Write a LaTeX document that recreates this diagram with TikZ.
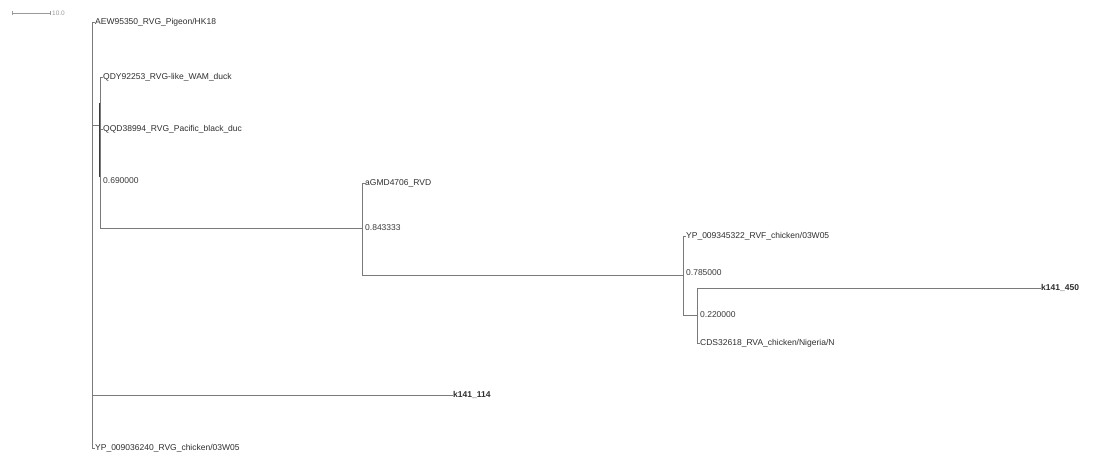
\documentclass[tikz,border=0pt]{standalone}
\usepackage{fontspec}
\setmainfont{Liberation Sans}
\usetikzlibrary{positioning}
\definecolor{Branch}{HTML}{7A7A7A}
\definecolor{Ink}{HTML}{2E2E2E}
\definecolor{Dark}{HTML}{3A3A3A}
\definecolor{Scale}{HTML}{9A9A9A}

\begin{document}
\begin{tikzpicture}[x=1pt,y=-1pt,
    branch/.style={draw=Branch,line width=0.8pt},
    leaf/.style={anchor=west,inner sep=0.5pt,text=Ink,font=\fontsize{8.5}{9}\selectfont},
    hit/.style={leaf,font=\fontsize{8.5}{9}\selectfont\bfseries},
    support/.style={leaf,text=Dark}
  ]
    \useasboundingbox (0,0) rectangle (1095,457);
    % scale bar
    \coordinate (sbL) at (12,13);
    \coordinate (sbR) at (50,13);
    \draw[draw=Scale,line width=0.8pt] (sbL) -- (sbR);
    \draw[draw=Scale,line width=0.8pt] ([yshift=-2]sbL) -- ([yshift=2]sbL);
    \draw[draw=Scale,line width=0.8pt] ([yshift=-2]sbR) -- ([yshift=2]sbR);
    \node[leaf,text=Scale,font=\fontsize{6.5}{7}\selectfont] (sbT) at (51.5,13.5) {10.0};

    % internal nodes
    \coordinate (root) at (92,235);
    \coordinate (nA) at (100,125);
    \coordinate (nB) at (362,228);
    \coordinate (nC) at (683,275);
    \coordinate (nD) at (697,315);

    % leaves
    \node[leaf] (lAEW) at (94.5,22) {AEW95350\_RVG\_Pigeon/HK18};
    \node[leaf] (lQDY) at (102.5,77) {QDY92253\_RVG-like\_WAM\_duck};
    \node[leaf] (lQQD) at (102.5,129) {QQD38994\_RVG\_Pacific\_black\_duc};
    \node[leaf] (lGMD) at (364.5,183) {aGMD4706\_RVD};
    \node[leaf] (lRVF) at (685.5,236) {YP\_009345322\_RVF\_chicken/03W05};
    \node[hit] (l450) at (1040.5,288) {k141\_450};
    \node[leaf] (lCDS) at (699.5,343) {CDS32618\_RVA\_chicken/Nigeria/N};
    \node[hit] (l114) at (452.5,395) {k141\_114};
    \node[leaf] (lRVG) at (94.5,448) {YP\_009036240\_RVG\_chicken/03W05};

    % support values
    \node[support] (sA) at (102.5,181) {0.690000};
    \node[support] (sB) at (364.5,228) {0.843333};
    \node[support] (sC) at (685.5,273) {0.785000};
    \node[support] (sD) at (699.5,315) {0.220000};

    % branches
    \draw[branch] (root) |- (lAEW.west);
    \draw[branch] (root) |- (nA);
    \draw[branch] (root) |- (l114.west);
    \draw[branch] (root) |- (lRVG.west);
    \draw[branch] (nA) |- (lQDY.west);
    \draw[branch] (nA) |- (lQQD.west);
    \draw[branch] (nA) |- (nB);
    \draw[draw=Dark,line width=1pt] (99.6,103) -- (99.6,177);
    \draw[branch] (nB) |- (lGMD.west);
    \draw[branch] (nB) |- (nC);
    \draw[branch] (nC) |- (lRVF.west);
    \draw[branch] (nC) |- (nD);
    \draw[branch] (nD) |- (l450.west);
    \draw[branch] (nD) |- (lCDS.west);
  \end{tikzpicture}
\end{document}
